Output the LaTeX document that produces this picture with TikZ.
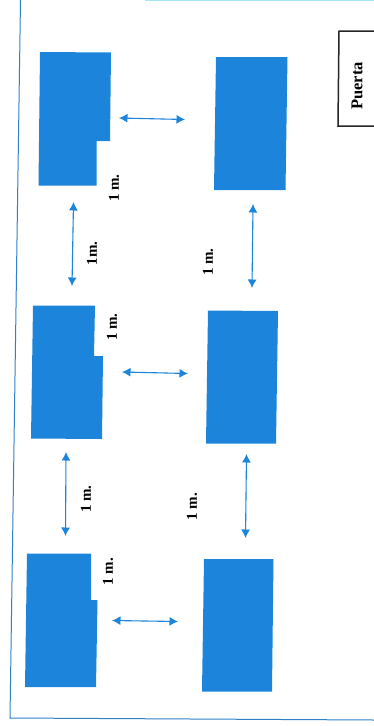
\documentclass[tikz,border=0pt]{standalone}
\usepackage{fontspec}
\setmainfont{Liberation Serif}
\definecolor{mesa}{HTML}{1C84DA}
\definecolor{marco}{HTML}{2F80C8}
\usetikzlibrary{arrows.meta}
\tikzset{
	flecha/.style={mesa, line width=1.1pt, <->, >={Latex[length=8.5pt,width=9pt]}},
	medida/.style={rotate=90, font=\fontsize{15}{17}\selectfont\bfseries, inner sep=0pt},
}
\begin{document}
\begin{tikzpicture}[x=1pt, y=-1pt]
	\useasboundingbox (0,0) rectangle (374,726);
	
	% marco
	\draw[marco, line width=1pt] (20.5,0) -- (10,718) -- (374,720);
	\draw[cyan!35, line width=1.5pt] (145,0.5) -- (374,0.5);
	
	% puerta
	\draw[black!85, line width=1.5pt] (374,31) -- (339,31) -- (338,126) -- (374,126);
	\node[medida, font=\fontsize{16.5}{18}\selectfont\bfseries] (puerta) at (357,86) {Puerta};
	
	% mesas con entrante
	\fill[mesa] (40,52) -- (111,52.5) -- (110,141) -- (96.5,141) -- (96.5,185.5) -- (38.5,185.5) -- cycle;
	\fill[mesa] (33,305.5) -- (95,305.5) -- (94,356) -- (103,356) -- (102,439) -- (31,438.5) -- cycle;
	\fill[mesa] (27,553.5) -- (91,553.5) -- (91,600) -- (97.5,600) -- (96,687) -- (25,687) -- cycle;
	
	% mesas enteras
	\fill[mesa] (216,57) -- (287.5,57) -- (285.5,190) -- (214,190) -- cycle;
	\fill[mesa] (208,310.5) -- (278,311) -- (276,443.5) -- (206,443.5) -- cycle;
	\fill[mesa] (204,559) -- (273.5,559) -- (272,691.5) -- (202,691.5) -- cycle;
	
	% flechas
	\foreach \xa/\ya/\xb/\yb in {119/118/185/119.5, 122/372/188/373.5, 112/620.5/178/621.5,
		73.5/202/72/286, 253/204/252/288, 66/452/65.5/536, 246.5/454/245.5/538}
	\draw[flecha] (\xa,\ya) -- (\xb,\yb);
	
	% medidas
	\node[medida] (ma) at (114,188) {1 m.};
	\node[medida] (mb) at (92,253.5) {1m.};
	\node[medida] (mc) at (208,262) {1 m.};
	\node[medida] (md) at (112,327) {1 m.};
	\node[medida] (me) at (86,499) {1 m.};
	\node[medida] (mf) at (192,506.5) {1 m.};
	\node[medida] (mg) at (108,571.5) {1 m.};
	
\end{tikzpicture}
\end{document}
